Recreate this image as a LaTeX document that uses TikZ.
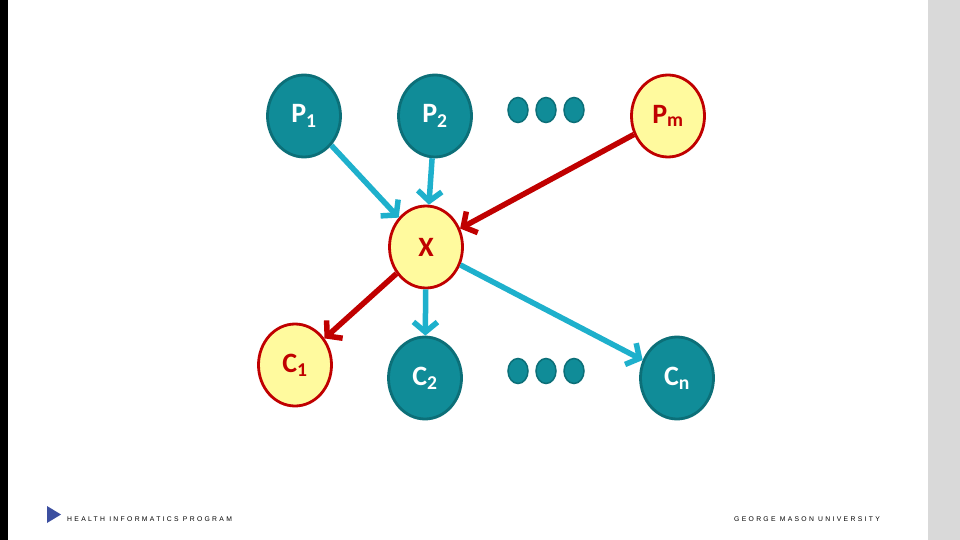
\documentclass[tikz,border=0pt]{standalone}
\usepackage{fontspec}
\setmainfont{Carlito}
\newfontfamily\footerfont[LetterSpace=34]{Liberation Sans}
\usetikzlibrary{shapes.geometric, arrows.meta}

\begin{document}
\begin{tikzpicture}[x=1pt,y=-1pt]
    % Define colours
    \definecolor{tealFill}{HTML}{108C98}
    \definecolor{tealBorder}{HTML}{0C6F78}
    \definecolor{yellowFill}{HTML}{FFFA9E}
    \definecolor{redBorder}{HTML}{C00000}
    \definecolor{cyanArrow}{HTML}{1EB0CC}
    \definecolor{sideGrey}{HTML}{D9D9D9}
    \definecolor{markBlue}{HTML}{3C4FA0}

    % Styles for the variables and the arrows
    \tikzset{
        varnode/.style={ellipse, inner sep=0pt, minimum width=73pt, minimum height=82pt,
            line width=2.8pt, font=\fontsize{28}{30}\selectfont\bfseries},
        parentnode/.style={varnode, fill=tealFill, draw=tealBorder, text=white},
        markovnode/.style={varnode, fill=yellowFill, draw=redBorder, text=redBorder},
        dotnode/.style={ellipse, inner sep=0pt, minimum width=20pt, minimum height=25pt,
            line width=1.5pt, fill=tealFill, draw=tealBorder},
        tealedge/.style={draw=cyanArrow, line width=5.5pt, -{Straight Barb[length=10pt,width=24pt]}},
        rededge/.style={draw=redBorder, line width=5.5pt, -{Straight Barb[length=10pt,width=24pt]}}
    }

    % Background and side strips
    \useasboundingbox (0,0) rectangle (960,540);
    \fill[white] (0,0) rectangle (960,540);
    \fill[black] (0,0) rectangle (8,540);
    \fill[sideGrey] (928,0) rectangle (960,540);

    % Parents of X
    \node[parentnode] (p1) at (304,116) {P\textsubscript{1}};
    \node[parentnode] (p2) at (435,116) {P\textsubscript{2}};
    \node[markovnode] (pm) at (668,116) {P\textsubscript{m}};

    % The node X
    \node[markovnode] (x) at (426,247) {X};

    % Children of X
    \node[markovnode] (c1) at (295,365) {C\textsubscript{1}};
    \node[parentnode] (c2) at (425,378) {C\textsubscript{2}};
    \node[parentnode] (cn) at (677,378) {C\textsubscript{n}};

    % Dots between the nodes
    \foreach \i/\dx in {1/518, 2/546, 3/574} {
        \node[dotnode] (topdot\i) at (\dx,110) {};
        \node[dotnode] (bottomdot\i) at (\dx,371) {};
    }

    % Draw the arrows
    \draw[tealedge] (p1) -- (x);
    \draw[tealedge] (p2) -- (x);
    \draw[rededge] (pm) -- (x);
    \draw[rededge] (x) -- (c1);
    \draw[tealedge] (x) -- (c2);
    \draw[tealedge] (x) -- (cn);

    % Footer
    \fill[markBlue] (47,506) -- (61,514.5) -- (47,523) -- cycle;
    \node[anchor=west, inner sep=0pt, font=\footerfont\fontsize{6.8}{7}\selectfont] (program) at (67,519) {HEALTH INFORMATICS PROGRAM};
    \node[anchor=east, inner sep=0pt, font=\footerfont\fontsize{6.8}{7}\selectfont] (university) at (880,519) {GEORGE MASON UNIVERSITY};
\end{tikzpicture}
\end{document}
